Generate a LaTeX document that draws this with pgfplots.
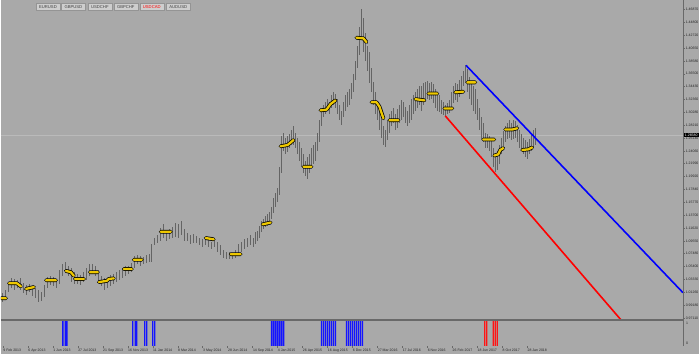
\documentclass[border=0pt]{standalone}
\usepackage{fontspec}
\setmainfont{Liberation Sans}
\usepackage{pgfplots}
\usepackage{pgfplotstable}
\pgfplotsset{compat=1.18}
\definecolor{bg}{RGB}{169,169,169}
\definecolor{barc}{RGB}{100,100,100}
\definecolor{sep}{RGB}{105,105,105}
\definecolor{gold}{RGB}{238,200,0}
\definecolor{btn}{RGB}{206,206,206}
\definecolor{cur}{RGB}{186,186,186}
\definecolor{hblue}{RGB}{20,20,255}
\definecolor{hred}{RGB}{255,20,20}
\newcommand\tf{\fontsize{3.5}{4}\selectfont}
\pgfplotstableread{
x lo hi
1 0.997 1.011
4 1.000 1.016
7 1.013 1.029
10 1.019 1.035
13 1.016 1.034
16 1.019 1.032
19 1.016 1.035
22 1.011 1.027
25 1.008 1.024
28 1.013 1.026
31 1.006 1.023
34 1.003 1.019
37 0.997 1.016
40 0.998 1.013
43 1.005 1.024
46 1.019 1.037
49 1.024 1.039
52 1.023 1.037
55 1.019 1.034
58 1.026 1.049
61 1.039 1.058
64 1.045 1.061
67 1.039 1.055
70 1.029 1.052
73 1.026 1.045
76 1.026 1.042
79 1.024 1.040
82 1.029 1.045
85 1.032 1.052
88 1.039 1.058
91 1.042 1.058
94 1.039 1.055
97 1.029 1.049
100 1.023 1.039
103 1.016 1.035
106 1.019 1.035
109 1.023 1.040
112 1.026 1.042
115 1.029 1.045
118 1.032 1.049
121 1.035 1.052
124 1.039 1.055
127 1.042 1.055
130 1.045 1.060
133 1.052 1.071
136 1.058 1.073
139 1.055 1.071
142 1.058 1.070
145 1.060 1.072
148 1.062 1.075
151 1.062 1.090
154 1.088 1.100
157 1.092 1.105
160 1.095 1.116
163 1.100 1.122
166 1.095 1.110
169 1.098 1.115
172 1.100 1.118
175 1.102 1.125
178 1.100 1.122
181 1.105 1.128
184 1.095 1.115
187 1.095 1.108
190 1.090 1.105
193 1.092 1.107
196 1.092 1.104
199 1.088 1.100
202 1.085 1.098
205 1.088 1.100
208 1.086 1.098
211 1.082 1.094
214 1.085 1.098
217 1.078 1.093
220 1.072 1.088
223 1.068 1.080
226 1.066 1.078
229 1.066 1.077
232 1.066 1.075
235 1.068 1.080
238 1.072 1.090
241 1.078 1.094
244 1.082 1.098
247 1.085 1.100
250 1.088 1.105
253 1.085 1.100
255 1.090 1.110
257 1.095 1.112
259 1.100 1.120
261 1.110 1.128
263 1.115 1.130
265 1.118 1.135
267 1.120 1.138
269 1.125 1.142
271 1.130 1.150
273 1.140 1.165
275 1.150 1.172
277 1.158 1.180
279 1.170 1.215
281 1.205 1.265
283 1.240 1.270
285 1.235 1.262
287 1.238 1.265
289 1.245 1.268
291 1.250 1.275
293 1.250 1.280
295 1.245 1.270
297 1.235 1.262
299 1.225 1.255
301 1.215 1.245
303 1.205 1.235
305 1.200 1.225
307 1.195 1.230
309 1.205 1.235
311 1.215 1.245
313 1.220 1.250
315 1.225 1.255
317 1.240 1.270
319 1.255 1.290
321 1.280 1.305
323 1.295 1.315
325 1.300 1.320
327 1.305 1.325
329 1.300 1.320
331 1.310 1.330
333 1.315 1.335
335 1.310 1.333
337 1.300 1.325
339 1.290 1.315
341 1.283 1.305
343 1.295 1.320
345 1.305 1.330
347 1.312 1.335
349 1.315 1.340
351 1.325 1.350
353 1.335 1.365
355 1.355 1.385
357 1.375 1.410
359 1.395 1.440
361 1.420 1.469
363 1.400 1.455
365 1.385 1.430
367 1.370 1.410
369 1.350 1.400
371 1.335 1.375
373 1.315 1.352
375 1.300 1.335
377 1.290 1.320
379 1.275 1.305
381 1.262 1.292
383 1.250 1.280
385 1.247 1.275
387 1.258 1.290
389 1.270 1.300
391 1.280 1.305
393 1.285 1.310
395 1.275 1.300
397 1.278 1.308
399 1.285 1.315
401 1.290 1.322
403 1.295 1.320
405 1.285 1.312
407 1.280 1.305
409 1.285 1.315
411 1.290 1.325
413 1.300 1.330
415 1.305 1.335
417 1.310 1.340
419 1.315 1.345
421 1.305 1.345
423 1.315 1.350
425 1.320 1.352
427 1.325 1.354
429 1.322 1.350
431 1.325 1.352
433 1.318 1.348
435 1.310 1.340
437 1.305 1.335
439 1.303 1.330
441 1.300 1.322
443 1.298 1.320
445 1.297 1.315
447 1.300 1.318
449 1.302 1.322
451 1.310 1.335
453 1.318 1.345
455 1.322 1.350
457 1.320 1.348
459 1.328 1.355
461 1.335 1.362
463 1.345 1.370
465 1.350 1.379
467 1.335 1.372
469 1.325 1.360
471 1.315 1.350
473 1.305 1.345
475 1.300 1.340
477 1.290 1.325
479 1.275 1.310
481 1.260 1.295
483 1.255 1.285
485 1.245 1.270
487 1.245 1.268
489 1.240 1.265
491 1.230 1.258
493 1.215 1.245
495 1.206 1.235
497 1.210 1.240
499 1.220 1.250
501 1.235 1.262
503 1.245 1.272
505 1.255 1.280
507 1.260 1.285
509 1.262 1.290
511 1.258 1.285
513 1.260 1.290
515 1.262 1.288
517 1.255 1.282
519 1.245 1.275
521 1.240 1.268
523 1.235 1.262
525 1.230 1.258
527 1.228 1.255
529 1.235 1.260
531 1.240 1.270
533 1.245 1.275
535 1.250 1.278
}\bars
\pgfplotstableread{
x y
0 1.003
5 1.003
nan nan
8 1.027
16 1.027
20 1.022
nan nan
25 1.018
33 1.021
nan nan
45 1.032
55 1.032
nan nan
65 1.047
70 1.045
73 1.039
nan nan
74 1.034
83 1.034
nan nan
89 1.045
97 1.045
nan nan
98 1.029
106 1.031
108 1.034
113 1.035
nan nan
123 1.050
131 1.050
nan nan
133 1.065
141 1.065
nan nan
160 1.110
170 1.110
nan nan
205 1.100
213 1.098
nan nan
230 1.074
240 1.074
nan nan
262 1.122
270 1.125
nan nan
280 1.248
287 1.250
290 1.254
293 1.258
nan nan
303 1.215
311 1.215
nan nan
320 1.306
326 1.307
330 1.316
335 1.322
nan nan
356 1.423
363 1.422
366 1.416
nan nan
371 1.319
376 1.319
379 1.312
383 1.293
nan nan
389 1.290
398 1.290
nan nan
415 1.324
424 1.322
nan nan
428 1.333
437 1.333
nan nan
444 1.309
452 1.309
nan nan
455 1.335
463 1.336
nan nan
467 1.351
475 1.351
nan nan
483 1.259
494 1.259
nan nan
494 1.233
498 1.235
500 1.242
503 1.245
nan nan
505 1.275
512 1.275
517 1.277
nan nan
522 1.242
528 1.243
532 1.246
}\yellow
\begin{document}
\begin{tikzpicture}[x=1pt,y=1pt]
\fill[bg] (0,0) rectangle (699,354);
\begin{axis}[at={(0pt,35pt)}, anchor=south west, scale only axis,
  width=683pt, height=319pt, xmin=0, xmax=683, ymin=0.9696, ymax=1.4832,
  axis line style={draw=none}, xtick=\empty, ytick pos=right,
  ytick={1.46870,1.44800,1.42720,1.40650,1.38580,1.36500,1.34430,1.32360,1.30280,1.28210,1.26140,1.24060,1.21990,1.19920,1.17840,1.15770,1.13700,1.11620,1.09550,1.07480,1.05400,1.03330,1.01260,0.99180,0.97110},
  yticklabels={1.46870,1.44800,1.42720,1.40650,1.38580,1.36500,1.34430,1.32360,1.30280,1.28210,1.26140,1.24060,1.21990,1.19920,1.17840,1.15770,1.13700,1.11620,1.09550,1.07480,1.05400,1.03330,1.01260,0.99180,0.97110},
  tick align=outside, major tick length=2pt,
  tick style={draw=sep, line width=0.4pt},
  yticklabel style={font=\tf, text=black!85, inner sep=0.6pt},
  unbounded coords=jump, clip=true]
\addplot[cur, line width=0.5pt] coordinates {(0,1.2658) (683,1.2658)};
\addplot[draw=none, mark=none, error bars/.cd, y dir=both, y explicit, error mark=none,
  error bar style={draw=barc, line width=0.55pt}]
  table[x=x, y expr={(\thisrow{lo}+\thisrow{hi})/2}, y error expr={(\thisrow{hi}-\thisrow{lo})/2}] {\bars};
\addplot[black, line width=3.8pt, line cap=round, line join=round] table[x=x,y=y] {\yellow};
\addplot[gold, line width=2.3pt, line cap=round, line join=round] table[x=x,y=y] {\yellow};
\addplot[red, line width=1.6pt] coordinates {(445,1.2969) (622,0.9660)};
\addplot[blue, line width=1.6pt] coordinates {(465.7,1.3785) (683,1.0119)};
\end{axis}
\begin{axis}[at={(0pt,8pt)}, anchor=south west, scale only axis,
  width=683pt, height=25pt, xmin=0, xmax=683, ymin=0, ymax=1,
  axis line style={draw=none}, ytick=\empty,
  xtick={2,27,52,77,102,127,152,177,202,227,252,277,302,327,352,377,402,427,452,477,502,527},
  xticklabels={9 Feb 2013,6 Apr 2013,1 Jun 2013,27 Jul 2013,21 Sep 2013,16 Nov 2013,11 Jan 2014,8 Mar 2014,3 May 2014,28 Jun 2014,14 Sep 2014,4 Jan 2015,26 Apr 2015,16 Aug 2015,6 Dec 2015,27 Mar 2016,17 Jul 2016,6 Nov 2016,26 Feb 2017,18 Jun 2017,8 Oct 2017,28 Jan 2018},
  xtick pos=bottom, tick align=outside, major tick length=2pt,
  tick style={draw=sep, line width=0.4pt},
  xticklabel style={font=\tf, text=black!85, anchor=north west, inner sep=0.5pt, xshift=-0.3pt},
  clip=true]
\addplot[ybar, bar width=1.4pt, fill=hblue, draw=none, bar shift=0pt] coordinates {(62,1)(64.5,1)(66,1)(132,1)(134.5,1)(136,1)(144,1)(146,1)(152,1)(154,1)(271,1)(273,1)(275,1)(277,1)(279,1)(281,1)(283,1)(321,1)(323,1)(325,1)(327,1)(329,1)(331,1)(333,1)(335,1)(346,1)(348,1)(350,1)(352,1)(354,1)(356,1)(358,1)(360,1)(362,1)};
\addplot[ybar, bar width=1.4pt, fill=hred, draw=none, bar shift=0pt] coordinates {(484.5,1)(486.5,1)(493,1)(495,1)(497,1)};
\end{axis}
\draw[sep, line width=2pt] (0,34) -- (683,34);
\draw[sep, line width=0.8pt] (683,354) -- (683,8);
\node[font=\tf, text=black!85, anchor=west, inner sep=0.5pt] at (685.5,30.5) {1};
\node[font=\tf, text=black!85, anchor=west, inner sep=0.5pt] at (685.5,10.5) {0};
\node[fill=black, text=white, font=\tf, anchor=west, inner sep=0.6pt, minimum width=15pt] at (683.6,219) {1.26580};
\foreach \cx/\t/\c in {47/EURUSD/black!75, 72.5/GBPUSD/black!75, 99/USDCHF/black!75, 125/GBPCHF/black!75, 151/USDCAD/red, 177.5/AUDUSD/black!75}{
  \node[draw=gray!60!black!60, fill=btn, minimum width=24pt, minimum height=7pt, inner sep=0pt, font=\fontsize{4.2}{4.5}\selectfont, text=\c] at (\cx,347.5) {\t};
}
\end{tikzpicture}
\end{document}
